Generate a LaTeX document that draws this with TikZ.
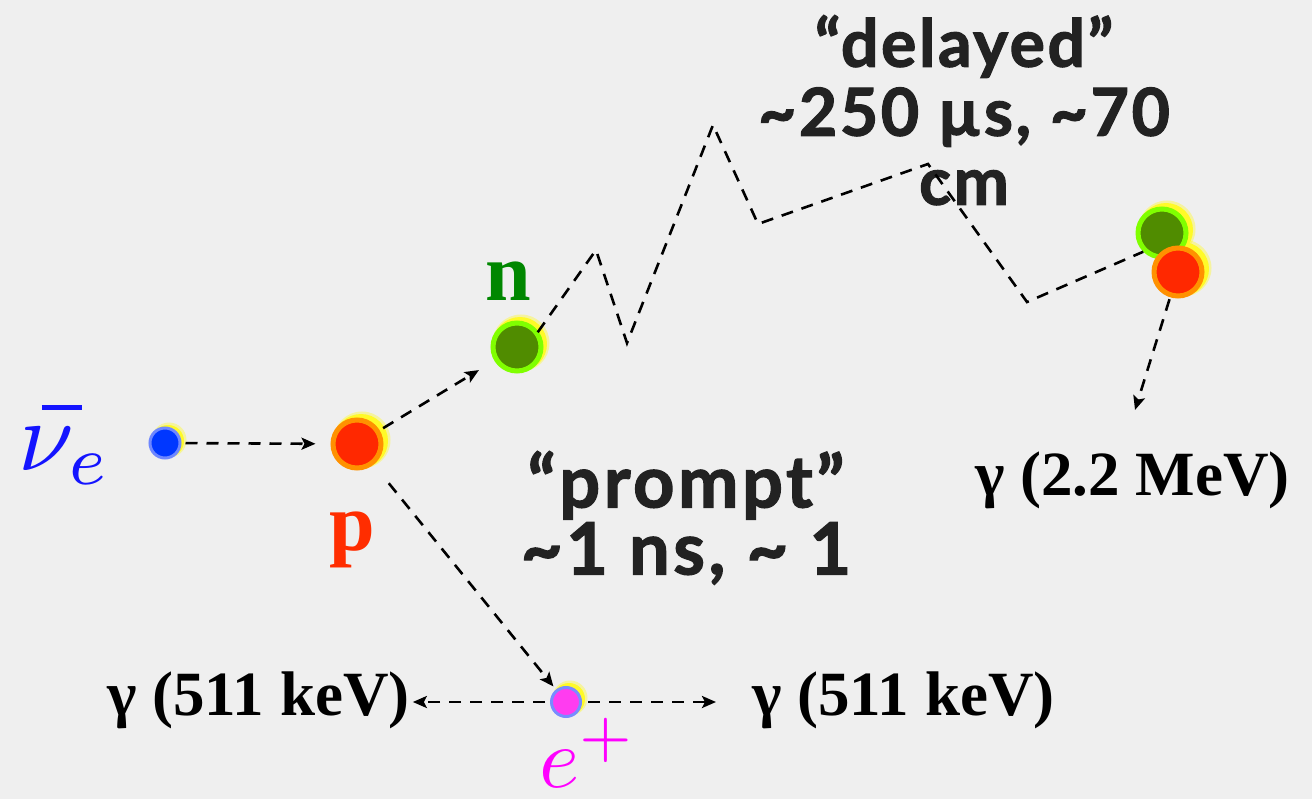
\documentclass[tikz,border=0pt]{standalone}
\usepackage{fontspec}
\setsansfont{Lato}[BoldFeatures={FakeBold=1.8}]
\newfontfamily\timesbf{Liberation Serif}[UprightFont=* Bold]
\usetikzlibrary{arrows.meta}

\definecolor{paper}{RGB}{239,239,239}
\definecolor{ink}{RGB}{34,34,34}
\definecolor{pfill}{RGB}{255,40,0}
\definecolor{prim}{RGB}{255,145,0}
\definecolor{nfill}{RGB}{80,140,0}
\definecolor{nrim}{RGB}{128,255,0}
\definecolor{nufill}{RGB}{0,55,255}
\definecolor{nurim}{RGB}{110,135,255}
\definecolor{efill}{RGB}{255,60,240}
\definecolor{erim}{RGB}{120,140,255}
\definecolor{glowc}{RGB}{255,250,40}
\definecolor{nulabel}{RGB}{20,20,255}
\definecolor{plabel}{RGB}{255,45,0}
\definecolor{nlabel}{RGB}{0,135,0}
\definecolor{elabel}{RGB}{255,0,255}

% antineutrino symbol with a long, slanted-offset bar
\newcommand{\antinue}{$\rlap{\kern2.3pt\vrule height 6.5pt depth -6.0pt width 4pt}\nu_e$}

\tikzset{
  ball/.style={circle, inner sep=0pt, minimum size=#1},
  proton/.style={ball=48pt, fill=pfill, draw=prim, line width=5pt},
  neutron/.style={ball=48pt, fill=nfill, draw=nrim, line width=5pt},
  track/.style={draw=black, line width=2.6pt, dash pattern=on 12pt off 9pt},
  arr/.style={track, -{Stealth[length=14pt,width=12pt,inset=3pt]}},
  gammalabel/.style={font=\timesbf\fontsize{63}{63}\selectfont, inner sep=0pt, text=black},
  sanslabel/.style={text=ink, align=center, inner sep=0pt},
}

\begin{document}
\begin{tikzpicture}[x=1pt,y=-1pt]
\useasboundingbox (0,0) rectangle (1312,799);
\fill[paper] (0,0) rectangle (1312,799);

% yellow halos, offset to the upper right of each particle
\foreach \cx/\cy/\r in {168/441/16, 361/441/27, 520/344/27, 1166/230/27, 1182/269/27, 569/699/16}{
  \fill[glowc, opacity=0.4] (\cx+1,\cy-1) circle (\r pt+1.5pt);
  \fill[glowc] (\cx,\cy) circle (\r pt);
}

% particles
\node[ball=30pt, fill=nufill, draw=nurim, line width=3pt] (nu) at (165,443) {};
\node[proton] (p) at (357,444) {};
\node[neutron] (n) at (517,347) {};
\node[neutron] (n2) at (1162,233) {};
\node[proton] (p2) at (1178,272) {};
\node[ball=29pt, fill=efill, draw=erim, line width=3pt] (epos) at (566,702) {};

% particle labels
\node[text=nulabel, inner sep=0pt, anchor=base west, scale=10] (nulab) at (17,470)
  {\antinue};
\node[text=plabel, inner sep=0pt, anchor=base] (plab) at (352,550)
  {\timesbf\fontsize{82}{82}\selectfont p};
\node[text=nlabel, inner sep=0pt, anchor=base] (nlab) at (508,301)
  {\timesbf\fontsize{82}{82}\selectfont n};
\node[text=elabel, inner sep=0pt, anchor=base west, scale=8.6] (elab) at (538,787)
  {$e^+$};

% gamma labels
\node[gammalabel, anchor=base west] (gl) at (107,715) {γ (511 keV)};
\node[gammalabel, anchor=base west] (gr) at (752,715) {γ (511 keV)};
\node[gammalabel, anchor=base west] (gn) at (975,495) {γ (2.2 MeV)};

% timing annotations
\node[sanslabel, anchor=north,
      font=\sffamily\bfseries\fontsize{66}{69}\selectfont\addfontfeatures{LetterSpace=4}] (delayed) at (964,15)
  {“delayed”\\\textasciitilde250 µs, \textasciitilde70\\cm};
\node[sanslabel, anchor=north,
      font=\sffamily\bfseries\fontsize{72}{67}\selectfont\addfontfeatures{LetterSpace=5}] (prompt) at (686,451)
  {“prompt”\\\textasciitilde1 ns, \textasciitilde\ 1};

% neutron random walk before capture
\coordinate (z1) at (596,250);
\coordinate (z2) at (627,343);
\coordinate (z3) at (713,125);
\coordinate (z4) at (758,224);
\coordinate (z5) at (928,164);
\coordinate (z6) at (1027,302);
\coordinate (gtip) at (1135,410);
\draw[track] (n.north east) ++(2,4) -- (z1) -- (z2) -- (z3) -- (z4) -- (z5) -- (z6) -- (n2.south west);

% prompt arrows
\draw[arr, shorten <=4pt, shorten >=15pt] (nu) -- (p);
\draw[arr, shorten <=4pt, shorten >=18pt] (p) -- (n);
\draw[arr, shorten <=24pt, shorten >=4pt] (p) -- (epos);
\draw[arr, shorten <=5pt, shorten >=3pt] (epos) -- (gl.east |- epos);
\draw[arr, shorten <=6pt, shorten >=36pt] (epos) -- (gr.west |- epos);
\draw[arr, shorten <=2pt] (p2) -- (gtip);
\end{tikzpicture}
\end{document}
